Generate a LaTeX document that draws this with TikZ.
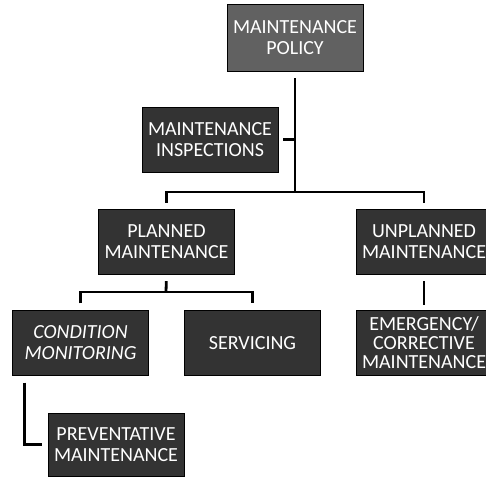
\documentclass[tikz,border=0pt]{standalone}
\usepackage{fontspec}
\setmainfont{Carlito}

\begin{document}
\begin{tikzpicture}[x=1pt, y=-1pt,
    box/.style={draw=black, rectangle, fill=black!80, text=white, minimum width=136pt,
        minimum height=65pt, inner sep=1pt, align=center, font=\fontsize{20}{21}\selectfont},
    link/.style={line width=2.8pt, black}]
        \useasboundingbox (0,0) rectangle (486,477);
        \node[box, fill=black!62, minimum height=67pt] (policy) at (295,37.5) {MAINTENANCE\\POLICY};
        \node[box] (inspections) at (210,139.5) {MAINTENANCE\\INSPECTIONS};
        \node[box] (planned) at (166.5,241.5) {PLANNED\\MAINTENANCE};
        \node[box] (unplanned) at (424,241.5) {UNPLANNED\\MAINTENANCE};
        \node[box, font=\fontsize{20}{21}\selectfont\itshape] (condition) at (80.5,343) {CONDITION\\MONITORING};
        \node[box] (servicing) at (252.5,343) {SERVICING};
        \node[box, font=\fontsize{20}{19}\selectfont] (emergency) at (424,343) {EMERGENCY/\\CORRECTIVE\\MAINTENANCE};
        \node[box, minimum height=63pt] (preventative) at (116,444.5) {PREVENTATIVE\\MAINTENANCE};
        % branch points
        \coordinate (bar) at (296,192);
        \coordinate (subbar) at (166,292);
        \draw[link, shorten <=7pt] (policy.south) -- (policy.south |- bar);
        \draw[link, shorten <=5pt] (inspections.east) -- (inspections.east -| policy.south);
        \draw[link, shorten <=6pt, shorten >=6pt] (planned.north) |- (bar) -| (unplanned.north);
        \draw[link, shorten <=7pt] (planned.south) -- (subbar);
        \draw[link, shorten <=7pt, shorten >=7pt] (condition.north) |- (subbar) -| (servicing.north);
        \draw[link, shorten <=7pt, shorten >=5pt] (unplanned.south) -- (emergency.north);
        \draw[link, shorten <=7pt, shorten >=6pt] ([xshift=12pt]condition.south west) |- (preventative.west);
    \end{tikzpicture}
\end{document}
